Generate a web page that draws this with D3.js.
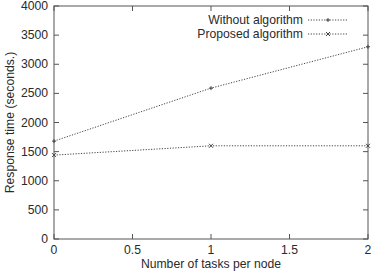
<!DOCTYPE html>
<html>
<head>
<meta charset="utf-8">
<script src="https://cdn.jsdelivr.net/npm/d3@7"></script>
<style>
body { margin: 0; background: #fff; }
text { font-family: "Liberation Sans", Arial, sans-serif; fill: #2a2a2a; }
</style>
</head>
<body>
<script>
var tasks = [0, 1, 2];
var withoutAlg = [1680, 2590, 3300];
var proposedAlg = [1440, 1600, 1600];
var xTicks = [0, 0.5, 1, 1.5, 2];
var yTicks = [0, 500, 1000, 1500, 2000, 2500, 3000, 3500, 4000];

var width = 372, height = 271;
var m = {left: 54, right: 4, top: 6, bottom: 32};
var fs = 12.2;

var svg = d3.select("body").append("svg")
    .attr("width", width)
    .attr("height", height);

var x = d3.scaleLinear().domain([0, 2]).range([m.left, width - m.right]);
var y = d3.scaleLinear().domain([0, 4000]).range([height - m.bottom, m.top]);

var axisColor = "#555";

// frame
svg.append("rect")
    .attr("x", x(0)).attr("y", y(4000))
    .attr("width", x(2) - x(0)).attr("height", y(0) - y(4000))
    .attr("fill", "none").attr("stroke", axisColor).attr("stroke-width", 1);

// ticks, all four sides, pointing in
var tl = 5;
xTicks.forEach(function(t) {
  svg.append("line").attr("x1", x(t)).attr("x2", x(t))
      .attr("y1", y(0)).attr("y2", y(0) - tl).attr("stroke", axisColor);
  svg.append("line").attr("x1", x(t)).attr("x2", x(t))
      .attr("y1", y(4000)).attr("y2", y(4000) + tl).attr("stroke", axisColor);
  svg.append("text").attr("x", x(t)).attr("y", y(0) + 15)
      .attr("text-anchor", "middle").attr("font-size", fs).text(t);
});
yTicks.forEach(function(t) {
  svg.append("line").attr("x1", x(0)).attr("x2", x(0) + tl)
      .attr("y1", y(t)).attr("y2", y(t)).attr("stroke", axisColor);
  svg.append("line").attr("x1", x(2)).attr("x2", x(2) - tl)
      .attr("y1", y(t)).attr("y2", y(t)).attr("stroke", axisColor);
  svg.append("text").attr("x", x(0) - 6).attr("y", y(t) + 4)
      .attr("text-anchor", "end").attr("font-size", fs).text(t);
});

svg.append("text")
    .attr("x", (x(0) + x(2)) / 2).attr("y", height - 3)
    .attr("text-anchor", "middle").attr("font-size", fs)
    .text("Number of tasks per node");

svg.append("text")
    .attr("transform", "translate(14," + ((y(0) + y(4000)) / 2) + ") rotate(-90)")
    .attr("text-anchor", "middle").attr("font-size", fs)
    .text("Response time (seconds.)");

var line = d3.line()
    .x(function(d, i) { return x(tasks[i]); })
    .y(function(d) { return y(d); });

var series = [
  {name: "Without algorithm", values: withoutAlg, mark: "plus"},
  {name: "Proposed algorithm", values: proposedAlg, mark: "cross"}
];

function marker(g, cx, cy, type) {
  var s = 2;
  if (type === "plus") {
    g.append("line").attr("x1", cx - s).attr("x2", cx + s).attr("y1", cy).attr("y2", cy);
    g.append("line").attr("x1", cx).attr("x2", cx).attr("y1", cy - s).attr("y2", cy + s);
  } else {
    g.append("line").attr("x1", cx - s).attr("x2", cx + s).attr("y1", cy - s).attr("y2", cy + s);
    g.append("line").attr("x1", cx - s).attr("x2", cx + s).attr("y1", cy + s).attr("y2", cy - s);
  }
}

var lineColor = "#444";

series.forEach(function(s, k) {
  svg.append("path")
      .attr("d", line(s.values))
      .attr("fill", "none")
      .attr("stroke", lineColor)
      .attr("stroke-width", 1)
      .attr("stroke-dasharray", "1.2,1.5");
  var g = svg.append("g").attr("stroke", lineColor).attr("stroke-width", 1);
  s.values.forEach(function(v, i) { marker(g, x(tasks[i]), y(v), s.mark); });

  // legend
  var ly = 20 + k * 14;
  svg.append("text").attr("x", 303).attr("y", ly + 4)
      .attr("text-anchor", "end").attr("font-size", fs).text(s.name);
  svg.append("line").attr("x1", 308).attr("x2", 348)
      .attr("y1", ly).attr("y2", ly)
      .attr("stroke", lineColor).attr("stroke-dasharray", "1.2,1.5");
  var lg = svg.append("g").attr("stroke", lineColor).attr("stroke-width", 1);
  marker(lg, 328, ly, s.mark);
});
</script>
</body>
</html>
